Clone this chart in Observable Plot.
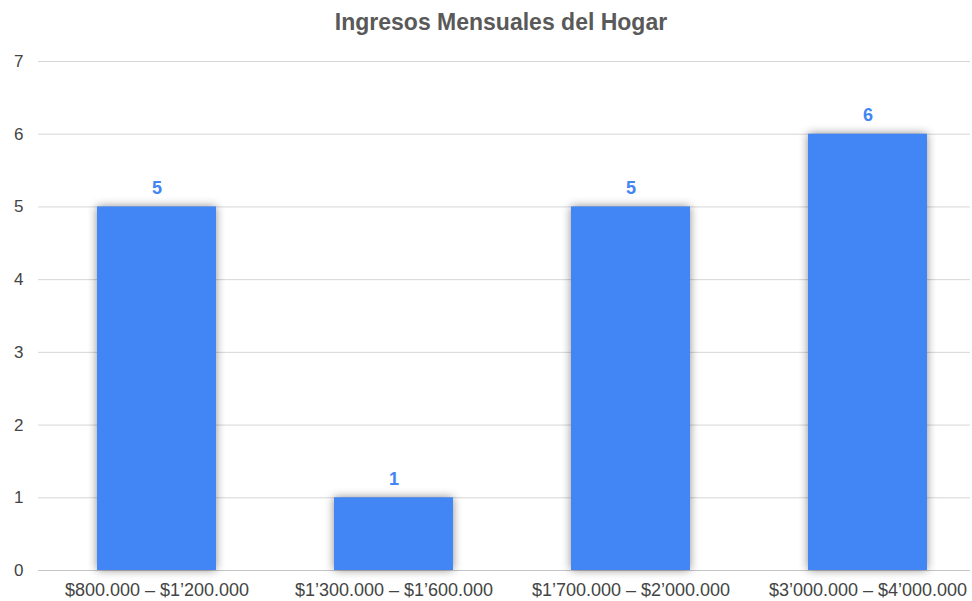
<!DOCTYPE html>
<html>
<head>
<meta charset="utf-8">
<script src="https://cdn.jsdelivr.net/npm/d3@7"></script>
<script src="https://cdn.jsdelivr.net/npm/@observablehq/plot@0.6"></script>
<style>
  body { margin: 0; background: #fff; font-family: "Liberation Sans", Arial, sans-serif; }
  #title { height: 40px; line-height: 44px; text-align: center; padding-left: 30px; font-size: 23px; font-weight: bold; color: #595959; }
</style>
</head>
<body>
<div id="title">Ingresos Mensuales del Hogar</div>
<div id="chart"></div>
<script>
const categories = ["$800.000 – $1’200.000", "$1’300.000 – $1’600.000", "$1’700.000 – $2’000.000", "$3’000.000 – $4’000.000"];
const counts = [5, 1, 5, 6];
const yTicks = [0, 1, 2, 3, 4, 5, 6, 7];

const data = categories.map((c, i) => ({category: c, count: counts[i]}));

const chart = Plot.plot({
  width: 972,
  height: 561,
  marginTop: 21,
  marginBottom: 31,
  marginLeft: 38,
  marginRight: 2,
  style: {fontFamily: '"Liberation Sans", Arial, sans-serif', background: "#fff", color: "#444"},
  x: {domain: categories, range: [38, 986], paddingInner: 0.5, paddingOuter: 0.25, label: null},
  y: {domain: [0, 7], label: null},
  marks: [
    Plot.ruleY(yTicks, {stroke: "#d6d6d6", strokeWidth: 1}),
    Plot.ruleY([0], {stroke: "#c4c4c4", strokeWidth: 1}),
    Plot.barY(data, {x: "category", y: "count", fill: "#4285F4"}),
    Plot.text(data, {x: "category", y: "count", text: d => String(d.count), dy: -19, fill: "#4285F4", fontWeight: "bold", fontSize: 18}),
    Plot.axisY({ticks: yTicks, tickSize: 0, tickPadding: 15, fontSize: 17, tickFormat: d => String(d), fill: "#444"}),
    Plot.axisX({tickSize: 0, tickPadding: 13, fontSize: 18, fill: "#444"})
  ]
});
document.getElementById("chart").appendChild(chart);
const barG = chart.querySelector('g[aria-label="bar"]');
if (barG) barG.style.filter = "drop-shadow(0px 0px 5px rgba(0,0,0,0.45))";
</script>
</body>
</html>
